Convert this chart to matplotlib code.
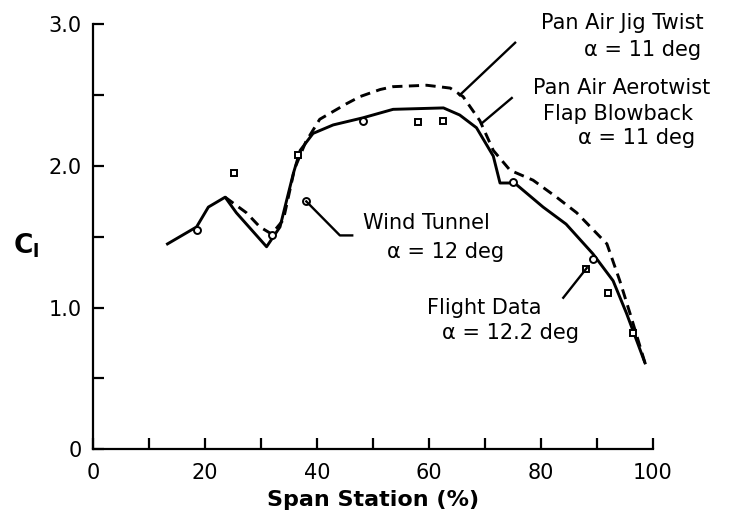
import matplotlib.pyplot as plt

# Pan Air Aerotwist, flap blowback (solid)
aero_x = [13.3, 18.5, 20.6, 23.6, 25.6, 31.0, 33.4, 35.8, 37.0, 39.3, 42.9, 48.2,
          53.6, 62.6, 65.5, 68.5, 71.5, 72.7, 75.0, 75.6, 80.4, 84.5, 89.3, 92.9,
          95.3, 98.6]
aero_y = [1.45, 1.57, 1.71, 1.78, 1.67, 1.43, 1.57, 1.95, 2.11, 2.23, 2.29, 2.34,
          2.40, 2.41, 2.36, 2.27, 2.07, 1.88, 1.88, 1.87, 1.71, 1.59, 1.38, 1.19,
          0.96, 0.61]

# Pan Air jig twist (dashed)
jig_x = [23.6, 27.4, 29.8, 31.9, 34.0, 36.0, 38.0, 40.5, 45.3, 47.7, 51.3, 53.6,
         59.6, 63.8, 66.1, 69.1, 71.5, 74.5, 78.6, 82.8, 86.4, 91.8, 94.1, 96.0, 98.6]
jig_y = [1.78, 1.67, 1.57, 1.52, 1.62, 1.98, 2.17, 2.33, 2.44, 2.49, 2.54, 2.56,
         2.57, 2.55, 2.49, 2.32, 2.11, 1.97, 1.90, 1.78, 1.67, 1.45, 1.19, 0.95, 0.61]

# Wind tunnel (circles), flight data (squares)
wt_x = [18.5, 31.9, 38.1, 48.2, 75.0, 89.3]
wt_y = [1.55, 1.51, 1.75, 2.32, 1.89, 1.34]
fl_x = [25.1, 36.7, 58.1, 62.6, 88.1, 92.0, 96.5]
fl_y = [1.95, 2.08, 2.31, 2.32, 1.27, 1.10, 0.82]

fig = plt.figure(figsize=(7.36, 5.29), dpi=100)
ax = fig.add_axes([0.1264, 0.1506, 0.7606, 0.8034])

ax.plot(aero_x, aero_y, 'k-', lw=2.1)
ax.plot(jig_x, jig_y, 'k--', lw=2.1, dashes=(3.5, 2.2))
ax.plot(wt_x, wt_y, 'o', mfc='white', mec='k', ms=5, mew=1.4)
ax.plot(fl_x, fl_y, 's', mfc='white', mec='k', ms=5, mew=1.4)

# leader lines
ax.plot([75.4, 65.5], [2.87, 2.50], 'k-', lw=1.7, clip_on=False)
ax.plot([74.8, 69.4], [2.48, 2.30], 'k-', lw=1.7, clip_on=False)
ax.plot([38.1, 44.1, 46.3], [1.75, 1.51, 1.51], 'k-', lw=1.7)
ax.plot([84.0, 88.2], [1.07, 1.28], 'k-', lw=1.7)

fs = 15
ax.text(94.6, 3.01, "Pan Air Jig Twist", ha='center', va='center', fontsize=fs, clip_on=False)
ax.text(98.2, 2.82, "α = 11 deg", ha='center', va='center', fontsize=fs, clip_on=False)
ax.text(94.4, 2.55, "Pan Air Aerotwist", ha='center', va='center', fontsize=fs, clip_on=False)
ax.text(93.8, 2.37, "Flap Blowback", ha='center', va='center', fontsize=fs, clip_on=False)
ax.text(97.1, 2.20, "α = 11 deg", ha='center', va='center', fontsize=fs, clip_on=False)
ax.text(48.2, 1.60, "Wind Tunnel", ha='left', va='center', fontsize=fs)
ax.text(52.5, 1.39, "α = 12 deg", ha='left', va='center', fontsize=fs)
ax.text(59.6, 1.00, "Flight Data", ha='left', va='center', fontsize=fs)
ax.text(62.3, 0.82, "α = 12.2 deg", ha='left', va='center', fontsize=fs)

ax.set_xlim(0, 100)
ax.set_ylim(0, 3)
ax.set_xticks(range(0, 101, 10))
ax.set_xticklabels([str(v) if v % 20 == 0 else '' for v in range(0, 101, 10)])
ax.set_yticks([0, 0.5, 1.0, 1.5, 2.0, 2.5, 3.0])
ax.set_yticklabels(['0', '', '1.0', '', '2.0', '', '3.0'])
ax.tick_params(direction='in', length=8, width=1.6, labelsize=15)
ax.tick_params(axis='x', pad=10)
ax.tick_params(axis='y', pad=8)
for s in ['top', 'right']:
    ax.spines[s].set_visible(False)
for s in ['left', 'bottom']:
    ax.spines[s].set_linewidth(1.6)

ax.set_xlabel("Span Station (%)", fontsize=16, fontweight='bold', labelpad=5)
fig.text(0.035, 0.535, r'$\mathbf{C}_\mathbf{l}$', fontsize=19, ha='center', va='center')

fig.savefig('out.png', dpi=100)
